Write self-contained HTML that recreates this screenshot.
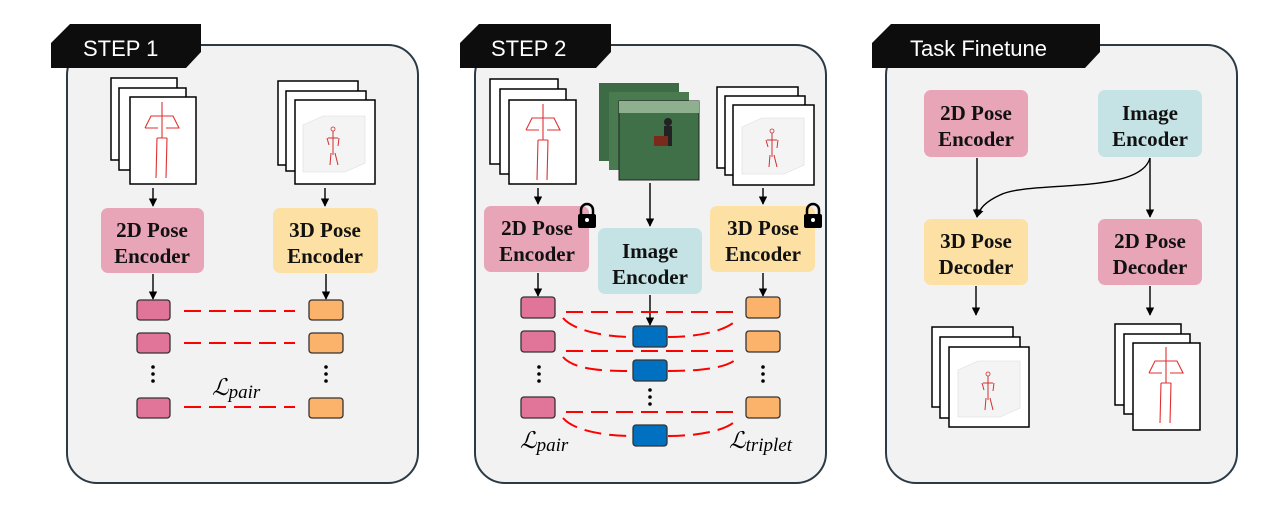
<!DOCTYPE html>
<html><head><meta charset="utf-8"><style>
html,body{margin:0;padding:0;background:#fff;width:1285px;height:506px;overflow:hidden}
svg text{font-family:"Liberation Serif",serif;font-weight:bold;fill:#111}
svg text.tab{font-family:"Liberation Sans",sans-serif;font-weight:normal;fill:#fff}
svg text.loss{font-weight:normal;font-style:italic;fill:#000}
</style></head><body>
<svg width="1285" height="506" viewBox="0 0 1285 506" xmlns="http://www.w3.org/2000/svg">
<defs>
<marker id="ah" viewBox="0 0 10 10" refX="9" refY="5" markerWidth="6" markerHeight="6" orient="auto"><path d="M0,0 L10,5 L0,10 z" fill="#000"/></marker>
<g id="sk2">
<path d="M0,-34 V2 M-17,-8 L-11,-20 H11 L17,-8 H4 M-17,-8 H-4 M-5,2 H5 M-5,2 L-6,42 M5,2 L4,42" stroke="#e03030" stroke-width="1.1" fill="none"/>
</g>
<g id="sk3">
<path d="M-30,-18 L-10,-27 H32 V20 L12,29 H-30 Z" fill="#f4f4f4" stroke="#ddd" stroke-width="0.6"/>
<path d="M0,-12 V12 M-6,-5 L-4,2 M6,-5 L5,3 M-5,-5 H5 M-2,10 L-3,22 M2,10 L5,22" stroke="#d03030" stroke-width="1" fill="none"/>
<circle cx="0" cy="-14" r="2" fill="none" stroke="#d03030" stroke-width="0.8"/>
</g>
</defs>

<rect x="67" y="45" width="351" height="438" rx="30" fill="#f2f2f2" stroke="#2b3a45" stroke-width="2"/>
<rect x="475" y="45" width="351" height="438" rx="30" fill="#f2f2f2" stroke="#2b3a45" stroke-width="2"/>
<rect x="886" y="45" width="351" height="438" rx="30" fill="#f2f2f2" stroke="#2b3a45" stroke-width="2"/>
<polygon points="51,43 70,24 201,24 201,52 186,68 51,68" fill="#0d0d0d"/>
<polygon points="460,43 479,24 611,24 611,52 596,68 460,68" fill="#0d0d0d"/>
<polygon points="872,43 891,24 1100,24 1100,52 1085,68 872,68" fill="#0d0d0d"/>
<text class="tab" x="83" y="56" font-size="22">STEP 1</text>
<text class="tab" x="491" y="56" font-size="22">STEP 2</text>
<text class="tab" x="910" y="56" font-size="22">Task Finetune</text>

<g stroke="#000" stroke-width="1.5" fill="#fff">
<rect x="111" y="78" width="66" height="82"/><rect x="119" y="88" width="67" height="82"/><rect x="130" y="97" width="66" height="87"/>
<rect x="278" y="81" width="80" height="84"/><rect x="286" y="91" width="80" height="80"/><rect x="295" y="100" width="80" height="84"/>
<rect x="490" y="79" width="68" height="85"/><rect x="500" y="89" width="66" height="85"/><rect x="509" y="100" width="67" height="84"/>
<rect x="717" y="87" width="81" height="81"/><rect x="725" y="96" width="80" height="79"/><rect x="733" y="105" width="81" height="80"/>
<rect x="932" y="327" width="81" height="80"/><rect x="940" y="337" width="80" height="81"/><rect x="949" y="347" width="80" height="80"/>
<rect x="1115" y="324" width="66" height="81"/><rect x="1124" y="334" width="66" height="80"/><rect x="1133" y="343" width="67" height="87"/>
</g>
<use href="#sk2" x="162" y="136"/>
<use href="#sk2" x="543" y="138"/>
<use href="#sk2" x="1166" y="381"/>
<use href="#sk3" x="333" y="143"/>
<use href="#sk3" x="772" y="145"/>
<use href="#sk3" x="988" y="388"/>

<g>
<rect x="599" y="83" width="80" height="78" fill="#3d6b45"/>
<rect x="609" y="92" width="80" height="78" fill="#4a7a50"/>
<rect x="619" y="101" width="80" height="79" fill="#3f7048" stroke="#222" stroke-width="1"/>
<rect x="619" y="101" width="80" height="12" fill="#8fb08e"/>
<circle cx="668" cy="122" r="4" fill="#222"/><rect x="664" y="126" width="8" height="20" fill="#222"/>
<rect x="654" y="136" width="14" height="10" fill="#7a2a1a"/>
</g>

<g>
<rect x="101" y="208" width="103" height="65" rx="7" fill="#e8a5b8"/>
<rect x="273" y="208" width="105" height="65" rx="7" fill="#fde0a3"/>
<rect x="484" y="206" width="105" height="66" rx="7" fill="#e8a5b8"/>
<rect x="598" y="228" width="104" height="66" rx="7" fill="#c5e3e5"/>
<rect x="710" y="206" width="105" height="66" rx="7" fill="#fde0a3"/>
<rect x="924" y="90" width="104" height="67" rx="7" fill="#e8a5b8"/>
<rect x="1098" y="90" width="104" height="67" rx="7" fill="#c5e3e5"/>
<rect x="924" y="219" width="104" height="66" rx="7" fill="#fde0a3"/>
<rect x="1098" y="219" width="104" height="66" rx="7" fill="#e8a5b8"/>
</g>
<g font-size="21" text-anchor="middle">
<text x="152" y="237">2D Pose</text><text x="152" y="263">Encoder</text>
<text x="325" y="237">3D Pose</text><text x="325" y="263">Encoder</text>
<text x="537" y="235">2D Pose</text><text x="537" y="261">Encoder</text>
<text x="650" y="258">Image</text><text x="650" y="284">Encoder</text>
<text x="763" y="235">3D Pose</text><text x="763" y="261">Encoder</text>
<text x="976" y="120">2D Pose</text><text x="976" y="146">Encoder</text>
<text x="1150" y="120">Image</text><text x="1150" y="146">Encoder</text>
<text x="976" y="248">3D Pose</text><text x="976" y="274">Decoder</text>
<text x="1150" y="248">2D Pose</text><text x="1150" y="274">Decoder</text>
</g>

<g fill="#000">
<path d="M581,215 v-5 a6,6 0 0 1 12,0 v5" fill="none" stroke="#000" stroke-width="2.5"/>
<rect x="578" y="214" width="18" height="14" rx="2"/>
<path d="M807,215 v-5 a6,6 0 0 1 12,0 v5" fill="none" stroke="#000" stroke-width="2.5"/>
<rect x="804" y="214" width="18" height="14" rx="2"/>
</g>
<circle cx="587" cy="220" r="2" fill="#fff"/><circle cx="813" cy="220" r="2" fill="#fff"/>

<g stroke="#000" stroke-width="1.4" fill="none" marker-end="url(#ah)">
<line x1="153" y1="188" x2="153" y2="206"/>
<line x1="325" y1="188" x2="325" y2="206"/>
<line x1="153" y1="274" x2="153" y2="299"/>
<line x1="326" y1="274" x2="326" y2="299"/>
<line x1="538" y1="188" x2="538" y2="204"/>
<line x1="650" y1="183" x2="650" y2="226"/>
<line x1="763" y1="188" x2="763" y2="204"/>
<line x1="538" y1="273" x2="538" y2="296"/>
<line x1="650" y1="295" x2="650" y2="325"/>
<line x1="763" y1="273" x2="763" y2="296"/>
<line x1="977" y1="158" x2="977" y2="217"/>
<line x1="1150" y1="158" x2="1150" y2="217"/>
<path d="M1150,158 C1140,195 1030,180 1000,195 C985,202 980,208 977,217"/>
<line x1="976" y1="286" x2="976" y2="315"/>
<line x1="1150" y1="286" x2="1150" y2="315"/>
</g>

<g stroke="#333" stroke-width="1.3">
<g fill="#e07499">
<rect x="137" y="300" width="33" height="20" rx="3"/><rect x="137" y="333" width="33" height="20" rx="3"/><rect x="137" y="398" width="33" height="20" rx="3"/>
<rect x="521" y="297" width="34" height="21" rx="3"/><rect x="521" y="331" width="34" height="21" rx="3"/><rect x="521" y="397" width="34" height="21" rx="3"/>
</g>
<g fill="#fbb36c">
<rect x="309" y="300" width="34" height="20" rx="3"/><rect x="309" y="333" width="34" height="20" rx="3"/><rect x="309" y="398" width="34" height="20" rx="3"/>
<rect x="746" y="297" width="34" height="21" rx="3"/><rect x="746" y="331" width="34" height="21" rx="3"/><rect x="746" y="397" width="34" height="21" rx="3"/>
</g>
<g fill="#0070c0">
<rect x="633" y="326" width="34" height="21" rx="3"/><rect x="633" y="360" width="34" height="21" rx="3"/><rect x="633" y="425" width="34" height="21" rx="3"/>
</g>
</g>
<g fill="#000">
<circle cx="153" cy="367" r="1.8"/><circle cx="153" cy="374" r="1.8"/><circle cx="153" cy="381" r="1.8"/>
<circle cx="326" cy="367" r="1.8"/><circle cx="326" cy="374" r="1.8"/><circle cx="326" cy="381" r="1.8"/>
<circle cx="539" cy="367" r="1.8"/><circle cx="539" cy="374" r="1.8"/><circle cx="539" cy="381" r="1.8"/>
<circle cx="763" cy="367" r="1.8"/><circle cx="763" cy="374" r="1.8"/><circle cx="763" cy="381" r="1.8"/>
<circle cx="650" cy="390" r="1.8"/><circle cx="650" cy="397" r="1.8"/><circle cx="650" cy="404" r="1.8"/>
</g>
<g stroke="#f00" stroke-width="2" fill="none" stroke-dasharray="17,8">
<line x1="184" y1="311" x2="295" y2="311"/>
<line x1="184" y1="343" x2="295" y2="343"/>
<line x1="184" y1="407" x2="295" y2="407"/>
<line x1="566" y1="312" x2="737" y2="312"/>
<line x1="566" y1="351" x2="737" y2="351"/>
<line x1="566" y1="412" x2="737" y2="412"/>
<path d="M563,318 C575,332 610,337 632,337"/>
<path d="M668,337 C700,337 730,330 738,318"/>
<path d="M563,357 C575,371 610,371 632,371"/>
<path d="M668,371 C700,371 730,368 738,357"/>
<path d="M563,418 C575,432 610,436 632,436"/>
<path d="M668,436 C700,436 730,430 738,418"/>
</g>
<text class="loss" x="212" y="395" font-size="23">ℒ<tspan font-size="19" dy="3">pair</tspan></text>
<text class="loss" x="520" y="448" font-size="23">ℒ<tspan font-size="19" dy="3">pair</tspan></text>
<text class="loss" x="729" y="448" font-size="23">ℒ<tspan font-size="19" dy="3">triplet</tspan></text>
</svg>
</body></html>
